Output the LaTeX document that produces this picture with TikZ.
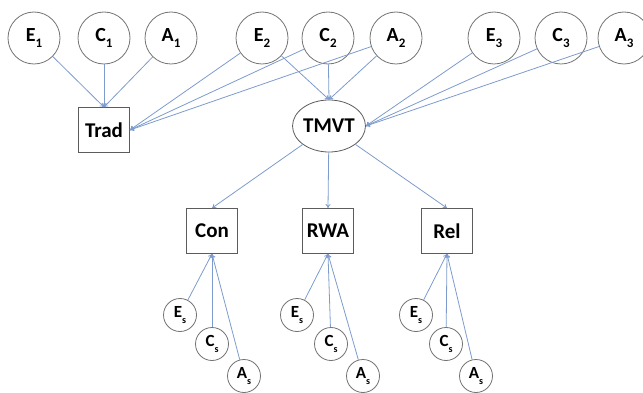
\documentclass[tikz,border=0pt]{standalone}
\usepackage{fontspec}
\setmainfont{Carlito}
\usetikzlibrary{arrows.meta,shapes.geometric}
\definecolor{linkblue}{RGB}{125,155,205}
\definecolor{rimgray}{RGB}{115,115,115}
\newcommand{\lowidx}[1]{\raisebox{-0.3em}{\fontsize{13}{13}\selectfont #1}}
\newcommand{\tinyidx}[1]{\raisebox{-0.32em}{\fontsize{10}{10}\selectfont #1}}
\begin{document}
\begin{tikzpicture}[x=1pt,y=-1pt,
  bigcirc/.style={circle,draw=rimgray,line width=0.8pt,minimum size=52pt,inner sep=0pt,font=\fontsize{20}{20}\selectfont\bfseries},
  smallcirc/.style={circle,draw=rimgray,line width=0.8pt,minimum size=33pt,inner sep=0pt,font=\fontsize{17}{17}\selectfont\bfseries},
  obsbox/.style={rectangle,draw=rimgray!80!black,line width=0.8pt,minimum width=51pt,minimum height=45pt,inner sep=0pt,font=\fontsize{21}{21}\selectfont\bfseries},
  latell/.style={ellipse,draw=rimgray!80!black,line width=0.8pt,minimum width=64pt,minimum height=52pt,inner sep=0pt,font=\fontsize{21}{21}\selectfont\bfseries},
  link/.style={draw=linkblue,line width=0.8pt,-{To[length=4pt,width=5pt]}}]
\useasboundingbox (0,0) rectangle (643,393);
\clip (0,0) rectangle (643,393);
% top latent circles
\node[bigcirc] (E1) at (34,38) {E\lowidx{1}};
\node[bigcirc] (C1) at (104,38) {C\lowidx{1}};
\node[bigcirc] (A1) at (171,38) {A\lowidx{1}};
\node[bigcirc] (E2) at (262,38) {E\lowidx{2}};
\node[bigcirc] (C2) at (328,38) {C\lowidx{2}};
\node[bigcirc] (A2) at (396,38) {A\lowidx{2}};
\node[bigcirc] (E3) at (494,38) {E\lowidx{3}};
\node[bigcirc] (C3) at (561,38) {C\lowidx{3}};
\node[bigcirc] (A3) at (624,38) {A\lowidx{3}};
% observed / latent
\node[obsbox] (Trad) at (104,130) {Trad};
\node[latell] (TMVT) at (329,126) {TMVT};
\node[obsbox] (Con) at (212,231) {Con};
\node[obsbox] (RWA) at (328,231) {RWA};
\node[obsbox] (Rel) at (447,231) {Rel};
% specific factors
\node[smallcirc] (EsCon) at (180,315) {E\tinyidx{s}};
\node[smallcirc] (CsCon) at (212,344) {C\tinyidx{s}};
\node[smallcirc] (AsCon) at (244,376) {A\tinyidx{s}};
\node[smallcirc] (EsRWA) at (297,315) {E\tinyidx{s}};
\node[smallcirc] (CsRWA) at (331,344) {C\tinyidx{s}};
\node[smallcirc] (AsRWA) at (363,376) {A\tinyidx{s}};
\node[smallcirc] (EsRel) at (416,315) {E\tinyidx{s}};
\node[smallcirc] (CsRel) at (446,344) {C\tinyidx{s}};
\node[smallcirc] (AsRel) at (476,376) {A\tinyidx{s}};
% arrows to Trad
\draw[link] (E1) -- (Trad.north);
\draw[link] (C1) -- (Trad.north);
\draw[link] (A1) -- (Trad.north);
\draw[link] (E2) -- (Trad.east);
\draw[link] (C2) -- (Trad.east);
\draw[link] (A2) -- (Trad.east);
% arrows to TMVT
\draw[link] (E2) -- (TMVT.north);
\draw[link] (C2) -- (TMVT.north);
\draw[link] (A2) -- (TMVT.north);
\draw[link] (E3) -- (TMVT.east);
\draw[link] (C3) -- (TMVT.east);
\draw[link] (A3) -- (TMVT.east);
% TMVT to facets
\draw[link] (TMVT) -- (Con.north);
\draw[link] (TMVT) -- (RWA.north);
\draw[link] (TMVT) -- (Rel.north);
% specific factors
\draw[link] (EsCon) -- (Con.south);
\draw[link] (CsCon) -- (Con.south);
\draw[link] (AsCon) -- (Con.south);
\draw[link] (EsRWA) -- (RWA.south);
\draw[link] (CsRWA) -- (RWA.south);
\draw[link] (AsRWA) -- (RWA.south);
\draw[link] (EsRel) -- (Rel.south);
\draw[link] (CsRel) -- (Rel.south);
\draw[link] (AsRel) -- (Rel.south);
\end{tikzpicture}
\end{document}
